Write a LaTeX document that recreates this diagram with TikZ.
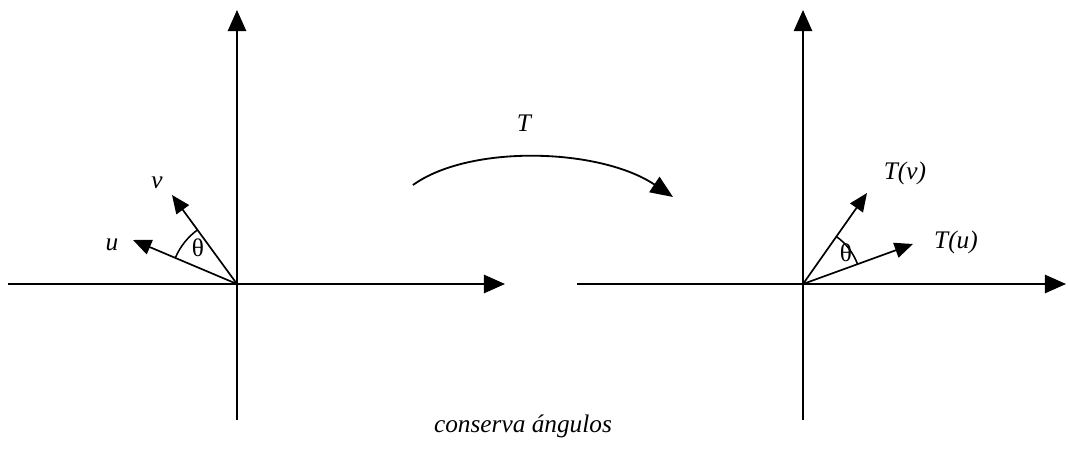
\documentclass[tikz,border=0pt]{standalone}
\usepackage{fontspec}
\setmainfont{Liberation Serif}
\usepackage{tikz}
\usetikzlibrary{arrows.meta}
\tikzset{
  axis/.style  = {-{Triangle[length=15pt,width=13pt]},line width=1.4pt},
  vec/.style   = {-{Triangle[length=13pt,width=11pt]},line width=1.2pt},
  mapto/.style = {-{Triangle[length=16pt,width=13pt]},line width=1.3pt},
  angarc/.style= {line width=1.1pt},
  lbl/.style   = {font=\fontsize{18}{20}\selectfont\itshape,inner sep=0pt},
  ang/.style   = {font=\fontsize{18}{20}\selectfont,inner sep=0pt},
}
\begin{document}
\begin{tikzpicture}[x=0.025cm,y=0.025cm]
  \useasboundingbox (0,0) rectangle (1068,450);

  % left plane
  \coordinate (oL) at (237,166);
  \coordinate (xLa) at (8,166);
  \coordinate (xLb) at (505,166);
  \coordinate (yLa) at (237,30);
  \coordinate (yLb) at (237,440);
  \coordinate (u) at (133,210);
  \coordinate (v) at (172,255);
  \draw[axis] (xLa) -- (xLb);
  \draw[axis] (yLa) -- (yLb);
  \draw[vec] (oL) -- (u);
  \draw[vec] (oL) -- (v);
  \draw[angarc] (oL) ++(126:67) arc[start angle=126,end angle=157,radius=67];
  \node[lbl] (ulbl) at (112,205) {u};
  \node[lbl] (vlbl) at (157,267) {v};
  \node[ang] (thL) at (198,202) {θ};

  % right plane
  \coordinate (oR) at (803,166);
  \coordinate (xRa) at (577,166);
  \coordinate (xRb) at (1066,166);
  \coordinate (yRa) at (803,30);
  \coordinate (yRb) at (803,440);
  \coordinate (Tu) at (913,206);
  \coordinate (Tv) at (867,257);
  \draw[axis] (xRa) -- (xRb);
  \draw[axis] (yRa) -- (yRb);
  \draw[vec] (oR) -- (Tu);
  \draw[vec] (oR) -- (Tv);
  \draw[angarc] (oR) ++(20:58) arc[start angle=20,end angle=55,radius=58];
  \node[lbl] (Tulbl) at (956,208) {T(u)};
  \node[lbl] (Tvlbl) at (905,277) {T(v)};
  \node[ang] (thR) at (846,197) {θ};

  % the map T
  \coordinate (ma) at (413,265);
  \coordinate (mb) at (673,253);
  \draw[mapto] (ma) .. controls (470,306) and (600,302) .. (mb);
  \node[lbl] (Tlbl) at (524,327) {T};

  \node[lbl] (cap) at (523,24) {conserva ángulos};
\end{tikzpicture}
\end{document}
